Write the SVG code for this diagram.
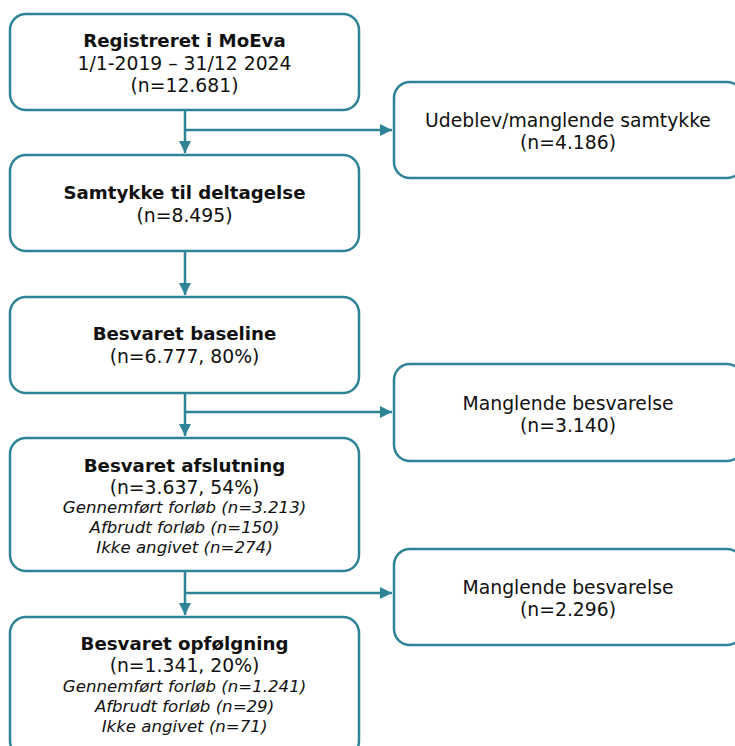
<svg xmlns="http://www.w3.org/2000/svg" width="735" height="746" viewBox="0 0 735 746">
<defs>
<marker id="ah" viewBox="0 0 10 10" refX="10" refY="5" markerWidth="5" markerHeight="5" orient="auto" markerUnits="strokeWidth">
<path d="M0,0 L10,5 L0,10 z" fill="#2e8396"/>
</marker>
<style>
.box{fill:#fff;stroke:#2e8396;stroke-width:2.5}
.t{font-family:"DejaVu Sans",Verdana,sans-serif;font-size:18.8px;fill:#111;text-anchor:middle}
.b{font-weight:bold;font-size:18.2px}
.i{font-style:italic;font-size:16.6px}
.c{fill:none;stroke:#2e8396;stroke-width:2.5}
</style>
</defs>
<rect width="735" height="746" fill="#fff"/>
<g id="connectors">
<path class="c" d="M185,110 V153" marker-end="url(#ah)"/>
<path class="c" d="M185,130 H392" marker-end="url(#ah)"/>
<path class="c" d="M185,251 V295" marker-end="url(#ah)"/>
<path class="c" d="M185,393 V436" marker-end="url(#ah)"/>
<path class="c" d="M185,412 H392" marker-end="url(#ah)"/>
<path class="c" d="M185,571 V615" marker-end="url(#ah)"/>
<path class="c" d="M185,593 H392" marker-end="url(#ah)"/>
</g>
<g id="n1">
<rect class="box" x="10" y="14" width="349" height="96" rx="16"/>
<text class="t b" x="184.5" y="47">Registreret i MoEva</text>
<text class="t" x="184.5" y="70">1/1-2019 – 31/12 2024</text>
<text class="t" x="184.5" y="92">(n=12.681)</text>
</g>
<g id="n2">
<rect class="box" x="394" y="82" width="349" height="96" rx="16"/>
<text class="t" x="568" y="127">Udeblev/manglende samtykke</text>
<text class="t" x="568" y="149">(n=4.186)</text>
</g>
<g id="n3">
<rect class="box" x="10" y="155" width="349" height="96" rx="16"/>
<text class="t b" x="184.5" y="199">Samtykke til deltagelse</text>
<text class="t" x="184.5" y="222">(n=8.495)</text>
</g>
<g id="n4">
<rect class="box" x="10" y="297" width="349" height="96" rx="16"/>
<text class="t b" x="184.5" y="340">Besvaret baseline</text>
<text class="t" x="184.5" y="363">(n=6.777, 80%)</text>
</g>
<g id="n5">
<rect class="box" x="394" y="364" width="349" height="97" rx="16"/>
<text class="t" x="568" y="410">Manglende besvarelse</text>
<text class="t" x="568" y="432">(n=3.140)</text>
</g>
<g id="n6">
<rect class="box" x="10" y="438" width="349" height="133" rx="16"/>
<text class="t b" x="184.5" y="472">Besvaret afslutning</text>
<text class="t" x="184.5" y="494">(n=3.637, 54%)</text>
<text class="t i" x="184.5" y="513">Gennemført forløb (n=3.213)</text>
<text class="t i" x="184.5" y="533">Afbrudt forløb (n=150)</text>
<text class="t i" x="184.5" y="553">Ikke angivet (n=274)</text>
</g>
<g id="n7">
<rect class="box" x="394" y="549" width="349" height="96" rx="16"/>
<text class="t" x="568" y="594">Manglende besvarelse</text>
<text class="t" x="568" y="616">(n=2.296)</text>
</g>
<g id="n8">
<rect class="box" x="10" y="617" width="349" height="140" rx="16"/>
<text class="t b" x="184.5" y="650">Besvaret opfølgning</text>
<text class="t" x="184.5" y="672">(n=1.341, 20%)</text>
<text class="t i" x="184.5" y="692">Gennemført forløb (n=1.241)</text>
<text class="t i" x="184.5" y="712">Afbrudt forløb (n=29)</text>
<text class="t i" x="184.5" y="732">Ikke angivet (n=71)</text>
</g>
</svg>
